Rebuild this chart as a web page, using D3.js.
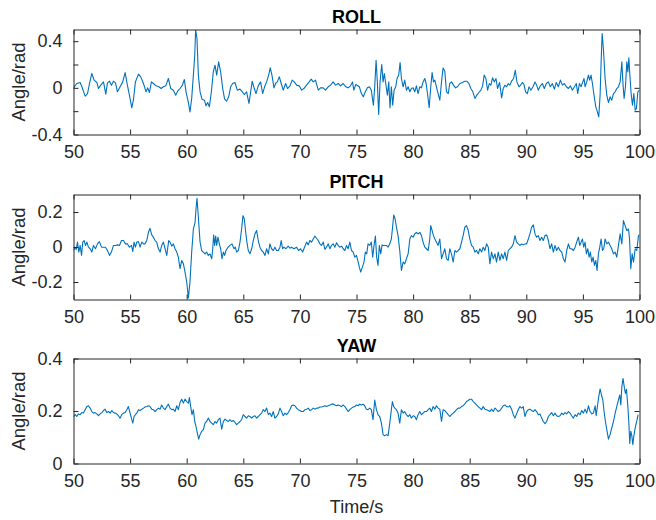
<!DOCTYPE html>
<html>
<head>
<meta charset="utf-8">
<script src="https://cdn.jsdelivr.net/npm/d3@7"></script>
<style>
  body { margin: 0; background: #fff; }
  text { font-family: Arial, "Liberation Sans", Helvetica, sans-serif; }
</style>
</head>
<body>
<div id="chart"></div>
<script>
// Time axis ticks (s)
const timeTicks = [50, 55, 60, 65, 70, 75, 80, 85, 90, 95, 100];

// ROLL angle (rad) as [time, value]
const rollData = [
  [50.00,0.000],[50.29,0.037],[50.59,0.046],[50.74,0.009],[51.03,-0.071],[51.24,-0.049],[51.41,0.037],[51.62,0.123],
  [51.82,0.066],[52.06,0.046],[52.21,-0.006],[52.41,0.023],[52.65,0.051],[52.85,-0.054],[53.00,0.043],[53.18,0.057],
  [53.35,0.023],[53.53,0.057],[53.71,0.043],[53.88,-0.034],[54.12,0.009],[54.35,0.051],[54.56,0.131],[54.76,0.023],
  [54.94,-0.063],[55.15,-0.171],[55.29,-0.106],[55.47,0.051],[55.74,0.117],[55.94,0.094],[56.18,0.037],[56.41,-0.034],
  [56.56,0.000],[56.71,-0.040],[56.88,0.051],[57.06,0.037],[57.29,0.017],[57.53,0.009],[57.74,-0.006],[57.94,0.009],
  [58.15,0.017],[58.38,0.080],[58.59,-0.006],[58.82,-0.020],[59.03,-0.063],[59.21,-0.026],[59.41,-0.006],[59.62,0.023],
  [59.79,0.071],[59.94,-0.034],[60.15,-0.126],[60.29,-0.206],[60.44,-0.091],[60.59,0.109],[60.71,0.280],[60.79,0.494],
  [60.91,0.423],[61.03,0.109],[61.18,-0.034],[61.35,-0.097],[61.56,-0.106],[61.71,-0.154],[61.85,-0.126],[62.00,-0.163],
  [62.18,-0.034],[62.35,0.137],[62.50,0.194],[62.65,0.109],[62.82,0.223],[63.00,0.137],[63.18,-0.006],[63.35,-0.097],
  [63.53,-0.114],[63.71,-0.077],[63.88,0.009],[64.06,0.037],[64.26,0.046],[64.47,-0.020],[64.71,-0.011],[64.91,-0.034],
  [65.09,-0.057],[65.29,-0.034],[65.50,-0.134],[65.65,-0.034],[65.79,0.057],[65.97,-0.006],[66.12,-0.049],[66.32,0.017],
  [66.53,0.051],[66.71,-0.049],[66.88,0.009],[67.06,0.051],[67.24,0.109],[67.38,0.171],[67.53,0.109],[67.71,0.000],
  [67.85,0.037],[68.00,0.051],[68.18,0.094],[68.35,0.037],[68.53,-0.020],[68.74,0.037],[68.91,-0.006],[69.12,0.017],
  [69.32,0.066],[69.50,0.051],[69.71,0.023],[69.94,0.017],[70.15,-0.020],[70.35,-0.006],[70.59,0.023],[70.82,0.051],
  [71.00,0.074],[71.18,0.051],[71.38,0.066],[71.62,-0.020],[71.82,0.000],[72.06,0.000],[72.26,-0.020],[72.50,0.009],
  [72.71,0.023],[72.94,0.051],[73.15,0.023],[73.38,0.037],[73.59,0.017],[73.82,0.037],[74.06,0.009],[74.26,0.000],
  [74.47,0.017],[74.65,0.051],[74.76,-0.020],[74.94,0.029],[75.25,0.009],[75.43,-0.049],[75.60,-0.077],[75.78,-0.034],
  [75.96,0.000],[76.14,0.009],[76.31,-0.020],[76.49,-0.149],[76.61,0.009],[76.73,0.237],[76.84,0.051],[76.96,-0.229],
  [77.08,0.051],[77.23,0.200],[77.35,0.051],[77.46,0.123],[77.58,0.037],[77.73,-0.063],[77.85,0.051],[77.96,-0.171],
  [78.08,0.009],[78.20,-0.149],[78.32,-0.020],[78.47,0.009],[78.58,0.080],[78.73,0.109],[78.85,0.217],[78.97,0.080],
  [79.12,0.009],[79.26,0.066],[79.41,-0.020],[79.56,0.009],[79.71,-0.034],[79.85,-0.006],[80.00,0.000],[80.15,-0.034],
  [80.29,0.017],[80.44,-0.049],[80.59,0.009],[80.74,0.000],[80.88,0.051],[81.03,0.080],[81.15,0.037],[81.27,-0.049],
  [81.42,-0.171],[81.56,0.009],[81.68,0.131],[81.80,0.051],[81.92,0.066],[82.06,0.009],[82.21,-0.049],[82.36,-0.106],
  [82.51,0.051],[82.65,0.171],[82.80,0.143],[82.95,-0.034],[83.10,-0.049],[83.24,0.037],[83.39,0.051],[83.57,0.023],
  [83.75,0.000],[83.92,0.009],[84.13,0.037],[84.34,0.046],[84.57,0.057],[84.75,0.057],[84.93,0.037],[85.10,-0.006],
  [85.28,-0.034],[85.46,-0.091],[85.63,-0.063],[85.81,-0.040],[85.99,-0.020],[86.14,0.017],[86.28,0.109],[86.43,0.080],
  [86.58,-0.020],[86.73,0.037],[86.87,0.023],[87.02,0.086],[87.17,0.051],[87.32,0.080],[87.46,-0.006],[87.64,0.046],
  [87.82,-0.086],[87.96,-0.006],[88.11,0.023],[88.26,0.009],[88.41,0.037],[88.55,0.023],[88.70,0.057],[88.88,0.080],
  [89.03,0.151],[89.17,0.051],[89.35,0.009],[89.50,0.023],[89.65,0.046],[89.79,0.029],[89.94,-0.034],[90.09,-0.049],
  [90.24,0.009],[90.41,-0.020],[90.59,0.009],[90.77,0.051],[90.91,0.023],[91.06,-0.020],[91.24,0.017],[91.42,0.037],
  [91.59,-0.006],[91.77,0.037],[91.95,0.051],[92.12,0.009],[92.30,0.037],[92.48,-0.011],[92.65,0.046],[92.83,0.009],
  [93.01,0.066],[93.19,0.023],[93.36,0.037],[93.54,0.009],[93.72,-0.006],[93.89,0.017],[94.07,-0.020],[94.25,0.009],
  [94.42,0.037],[94.54,-0.049],[94.69,0.037],[94.84,0.009],[94.99,0.051],[95.10,0.080],[95.19,0.009],[95.34,0.051],
  [95.49,0.109],[95.60,0.066],[95.72,0.109],[95.84,0.037],[95.96,-0.049],[96.14,-0.163],[96.28,-0.206],[96.40,-0.249],
  [96.52,-0.063],[96.61,0.223],[96.70,0.466],[96.81,0.337],[96.96,0.080],[97.11,-0.063],[97.26,-0.126],[97.40,-0.077],
  [97.55,-0.106],[97.70,-0.049],[97.85,-0.034],[97.99,-0.006],[98.14,0.009],[98.29,0.051],[98.44,0.223],[98.55,0.023],
  [98.64,-0.091],[98.76,0.009],[98.88,0.223],[98.97,0.137],[99.06,0.257],[99.14,0.123],[99.26,-0.049],[99.38,-0.149],
  [99.50,-0.049],[99.62,-0.191],[99.73,-0.177],[99.85,-0.034],[100.00,-0.020]
];

// PITCH angle (rad)
const pitchData = [
  [50.00,-0.020],[50.12,-0.001],[50.24,-0.014],[50.35,0.028],[50.47,-0.029],[50.59,0.009],[50.71,-0.048],[50.82,0.028],
  [50.94,0.037],[51.06,0.009],[51.18,0.028],[51.32,-0.001],[51.47,-0.010],[51.62,-0.029],[51.76,0.009],[51.94,-0.010],
  [52.12,0.018],[52.29,0.031],[52.47,-0.001],[52.65,-0.001],[52.82,-0.001],[53.00,-0.020],[53.18,-0.048],[53.35,-0.029],
  [53.53,0.009],[53.71,0.009],[53.88,0.012],[54.06,0.009],[54.24,0.037],[54.41,0.037],[54.59,0.018],[54.76,0.018],
  [54.94,-0.001],[55.12,0.009],[55.24,-0.026],[55.35,0.028],[55.47,-0.001],[55.59,0.028],[55.74,0.031],[55.88,-0.001],
  [56.03,0.028],[56.18,0.018],[56.32,0.018],[56.47,0.037],[56.62,0.084],[56.76,0.107],[56.91,0.069],[57.06,0.056],
  [57.21,0.037],[57.35,0.028],[57.50,-0.010],[57.65,-0.029],[57.79,0.009],[57.94,0.028],[58.09,-0.010],[58.24,-0.048],
  [58.41,0.037],[58.53,0.028],[58.68,0.005],[58.82,0.018],[58.97,-0.010],[59.12,-0.029],[59.26,-0.058],[59.41,-0.124],
  [59.56,-0.077],[59.71,-0.096],[59.85,-0.143],[60.00,-0.200],[60.15,-0.291],[60.29,-0.200],[60.44,-0.029],[60.59,0.103],
  [60.74,0.141],[60.82,0.217],[60.91,0.278],[61.03,0.170],[61.18,0.028],[61.32,-0.020],[61.47,-0.029],[61.62,-0.039],
  [61.76,-0.029],[61.91,-0.048],[62.06,-0.039],[62.21,-0.067],[62.29,-0.020],[62.38,0.069],[62.47,0.009],[62.56,0.062],
  [62.65,0.009],[62.76,0.056],[62.88,0.018],[63.00,-0.010],[63.12,-0.067],[63.24,-0.029],[63.35,-0.048],[63.47,-0.020],
  [63.65,-0.001],[63.82,0.009],[64.00,0.018],[64.18,-0.010],[64.29,-0.001],[64.41,-0.029],[64.56,-0.020],[64.71,0.028],
  [64.85,0.103],[64.97,0.179],[65.09,0.160],[65.21,0.084],[65.32,0.028],[65.44,-0.020],[65.59,-0.039],[65.74,-0.010],
  [65.88,0.037],[66.03,0.075],[66.18,0.094],[66.32,0.037],[66.47,-0.001],[66.62,-0.020],[66.76,-0.029],[66.91,-0.048],
  [67.06,-0.010],[67.21,-0.039],[67.35,0.018],[67.50,-0.010],[67.65,-0.020],[67.79,-0.001],[67.94,-0.020],[68.09,-0.020],
  [68.24,-0.001],[68.35,0.037],[68.47,-0.010],[68.59,-0.001],[68.76,-0.010],[68.97,0.005],[69.12,-0.007],[69.26,-0.001],
  [69.47,-0.010],[69.71,-0.001],[69.88,-0.020],[70.06,-0.010],[70.24,-0.029],[70.41,-0.001],[70.59,0.028],[70.74,0.012],
  [70.88,0.037],[71.03,0.028],[71.18,0.046],[71.32,0.062],[71.47,0.050],[71.62,0.037],[71.76,0.018],[71.91,0.009],
  [72.06,0.028],[72.21,-0.014],[72.35,-0.001],[72.50,0.018],[72.65,-0.010],[72.79,0.009],[72.94,0.018],[73.09,-0.001],
  [73.24,0.024],[73.38,0.009],[73.53,-0.001],[73.68,0.005],[73.82,-0.010],[73.97,-0.020],[74.12,0.009],[74.26,-0.010],
  [74.41,0.028],[74.56,-0.020],[74.71,-0.029],[74.85,-0.058],[75.00,-0.048],[75.15,-0.086],[75.25,-0.115],[75.37,-0.143],
  [75.52,-0.115],[75.66,-0.086],[75.78,-0.029],[75.90,-0.039],[76.02,0.018],[76.17,0.009],[76.31,0.028],[76.43,-0.058],
  [76.55,0.009],[76.67,0.062],[76.78,-0.058],[76.90,-0.105],[77.02,0.009],[77.14,-0.039],[77.26,0.012],[77.37,0.009],
  [77.49,0.009],[77.64,0.009],[77.79,-0.001],[77.94,0.018],[78.08,0.046],[78.20,0.122],[78.29,0.183],[78.41,0.160],
  [78.53,0.113],[78.67,0.065],[78.82,-0.020],[78.97,-0.134],[79.12,-0.086],[79.26,-0.096],[79.41,-0.067],[79.56,-0.039],
  [79.71,0.046],[79.85,0.065],[80.00,0.056],[80.15,0.075],[80.29,0.084],[80.44,0.075],[80.59,0.084],[80.74,0.065],
  [80.88,0.028],[81.03,-0.001],[81.18,-0.010],[81.33,-0.020],[81.47,0.046],[81.56,0.122],[81.68,0.094],[81.80,0.065],
  [81.92,0.046],[82.06,0.028],[82.21,0.009],[82.36,0.046],[82.51,-0.067],[82.65,-0.039],[82.80,-0.010],[82.95,-0.067],
  [83.10,-0.077],[83.24,-0.010],[83.39,-0.039],[83.54,-0.086],[83.69,-0.020],[83.83,-0.029],[83.98,-0.020],[84.13,-0.010],
  [84.28,0.028],[84.42,0.065],[84.57,0.113],[84.72,0.122],[84.87,0.094],[85.01,0.046],[85.16,0.009],[85.31,-0.001],
  [85.46,-0.029],[85.60,-0.020],[85.75,-0.039],[85.90,-0.010],[86.05,-0.029],[86.19,-0.001],[86.34,-0.020],[86.49,0.018],
  [86.64,-0.001],[86.78,-0.096],[86.93,-0.029],[87.08,-0.067],[87.23,-0.039],[87.37,-0.086],[87.52,-0.029],[87.67,-0.077],
  [87.82,-0.039],[87.96,-0.067],[88.11,-0.029],[88.26,-0.077],[88.41,-0.020],[88.55,-0.010],[88.70,-0.001],[88.85,0.018],
  [89.00,0.065],[89.14,0.028],[89.29,0.018],[89.44,0.009],[89.59,0.018],[89.73,0.012],[89.88,0.018],[90.03,0.018],
  [90.18,0.046],[90.32,0.075],[90.47,0.113],[90.62,0.126],[90.77,0.075],[90.91,0.056],[91.06,0.065],[91.21,0.037],
  [91.36,0.056],[91.50,0.037],[91.65,0.065],[91.80,0.069],[91.95,0.037],[92.09,-0.010],[92.24,0.018],[92.39,-0.029],
  [92.54,0.009],[92.68,-0.020],[92.83,-0.001],[92.98,-0.020],[93.13,-0.029],[93.27,-0.067],[93.42,-0.086],[93.57,-0.020],
  [93.72,0.018],[93.86,-0.010],[94.01,-0.010],[94.16,-0.020],[94.31,-0.001],[94.45,0.028],[94.60,0.056],[94.72,0.009],
  [94.84,0.028],[94.96,0.046],[95.07,-0.001],[95.19,0.028],[95.31,-0.039],[95.43,-0.010],[95.55,-0.058],[95.66,-0.029],
  [95.78,-0.086],[95.90,-0.058],[96.02,-0.105],[96.14,-0.077],[96.25,-0.134],[96.37,-0.039],[96.49,-0.001],[96.61,0.046],
  [96.73,-0.020],[96.84,-0.010],[96.96,0.046],[97.11,0.018],[97.26,0.028],[97.40,0.009],[97.55,-0.010],[97.70,-0.039],
  [97.85,-0.029],[97.99,-0.058],[98.14,0.009],[98.29,0.075],[98.44,0.018],[98.58,0.151],[98.73,0.122],[98.88,0.094],
  [99.03,0.103],[99.12,0.046],[99.23,-0.124],[99.35,-0.039],[99.47,-0.086],[99.62,-0.010],[99.76,-0.020],[99.91,0.065],
  [100.00,0.070]
];

// YAW angle (rad)
const yawData = [
  [50.00,0.177],[50.15,0.186],[50.29,0.179],[50.44,0.189],[50.59,0.186],[50.74,0.194],[50.88,0.192],[51.03,0.205],
  [51.18,0.217],[51.32,0.220],[51.47,0.211],[51.62,0.198],[51.76,0.192],[51.91,0.194],[52.06,0.189],[52.21,0.182],
  [52.35,0.189],[52.50,0.194],[52.65,0.202],[52.79,0.207],[52.94,0.194],[53.09,0.198],[53.24,0.192],[53.38,0.202],
  [53.53,0.194],[53.68,0.192],[53.82,0.189],[53.97,0.182],[54.12,0.173],[54.26,0.186],[54.41,0.192],[54.56,0.194],
  [54.71,0.205],[54.85,0.217],[55.00,0.192],[55.15,0.167],[55.24,0.154],[55.35,0.179],[55.47,0.186],[55.59,0.192],
  [55.74,0.205],[55.88,0.202],[56.03,0.207],[56.18,0.211],[56.32,0.215],[56.47,0.217],[56.62,0.220],[56.76,0.217],
  [56.91,0.207],[57.06,0.205],[57.21,0.198],[57.35,0.205],[57.50,0.211],[57.65,0.207],[57.79,0.223],[57.94,0.211],
  [58.09,0.205],[58.24,0.217],[58.38,0.226],[58.53,0.211],[58.68,0.205],[58.82,0.207],[58.97,0.198],[59.12,0.220],
  [59.26,0.205],[59.41,0.232],[59.56,0.245],[59.71,0.230],[59.85,0.245],[60.00,0.236],[60.15,0.230],[60.24,0.251],
  [60.35,0.217],[60.47,0.186],[60.59,0.205],[60.71,0.160],[60.82,0.141],[60.94,0.116],[61.06,0.093],[61.18,0.110],
  [61.32,0.122],[61.47,0.129],[61.62,0.154],[61.76,0.160],[61.91,0.173],[62.06,0.160],[62.21,0.154],[62.35,0.148],
  [62.50,0.160],[62.65,0.154],[62.79,0.167],[62.94,0.173],[63.09,0.131],[63.24,0.160],[63.38,0.169],[63.53,0.164],
  [63.68,0.160],[63.82,0.167],[63.97,0.160],[64.12,0.164],[64.26,0.157],[64.41,0.148],[64.56,0.154],[64.71,0.160],
  [64.85,0.167],[65.00,0.186],[65.15,0.179],[65.29,0.173],[65.44,0.182],[65.59,0.179],[65.74,0.173],[65.88,0.179],
  [66.03,0.182],[66.18,0.173],[66.32,0.179],[66.47,0.186],[66.62,0.192],[66.76,0.205],[66.91,0.198],[67.06,0.211],
  [67.21,0.186],[67.35,0.192],[67.50,0.179],[67.65,0.198],[67.79,0.173],[67.94,0.179],[68.09,0.189],[68.24,0.211],
  [68.38,0.198],[68.53,0.182],[68.68,0.192],[68.82,0.186],[68.97,0.194],[69.12,0.205],[69.26,0.220],[69.41,0.223],
  [69.56,0.220],[69.71,0.211],[69.85,0.205],[70.00,0.202],[70.15,0.198],[70.29,0.198],[70.44,0.205],[70.59,0.207],
  [70.74,0.211],[70.88,0.202],[71.03,0.205],[71.18,0.211],[71.32,0.207],[71.47,0.211],[71.62,0.211],[71.76,0.215],
  [71.91,0.215],[72.06,0.217],[72.21,0.220],[72.35,0.217],[72.50,0.220],[72.65,0.223],[72.79,0.226],[72.94,0.227],
  [73.09,0.223],[73.24,0.220],[73.38,0.223],[73.53,0.220],[73.68,0.217],[73.82,0.223],[73.97,0.217],[74.12,0.207],
  [74.26,0.198],[74.41,0.205],[74.56,0.211],[74.71,0.215],[74.85,0.217],[75.00,0.223],[75.15,0.220],[75.28,0.226],
  [75.43,0.223],[75.58,0.226],[75.72,0.220],[75.87,0.207],[76.02,0.205],[76.17,0.211],[76.31,0.205],[76.46,0.167],
  [76.61,0.242],[76.76,0.205],[76.90,0.186],[77.05,0.179],[77.20,0.154],[77.35,0.110],[77.49,0.106],[77.64,0.110],
  [77.79,0.106],[77.94,0.154],[78.08,0.205],[78.17,0.236],[78.29,0.217],[78.38,0.211],[78.53,0.205],[78.67,0.192],
  [78.82,0.154],[78.97,0.205],[79.12,0.192],[79.26,0.198],[79.41,0.186],[79.56,0.179],[79.71,0.186],[79.85,0.173],
  [80.00,0.182],[80.15,0.179],[80.29,0.167],[80.44,0.186],[80.59,0.198],[80.74,0.186],[80.88,0.192],[81.03,0.198],
  [81.18,0.198],[81.33,0.205],[81.47,0.211],[81.62,0.198],[81.77,0.217],[81.92,0.207],[82.06,0.220],[82.21,0.211],
  [82.36,0.207],[82.51,0.160],[82.65,0.205],[82.80,0.202],[82.95,0.194],[83.10,0.186],[83.24,0.179],[83.39,0.186],
  [83.54,0.192],[83.69,0.198],[83.83,0.205],[83.98,0.211],[84.13,0.211],[84.28,0.217],[84.42,0.220],[84.57,0.227],
  [84.72,0.236],[84.87,0.240],[85.01,0.245],[85.16,0.245],[85.31,0.236],[85.46,0.230],[85.60,0.223],[85.75,0.217],
  [85.90,0.211],[86.05,0.205],[86.19,0.217],[86.34,0.207],[86.49,0.205],[86.64,0.202],[86.78,0.198],[86.93,0.207],
  [87.08,0.198],[87.23,0.211],[87.37,0.205],[87.52,0.198],[87.67,0.202],[87.82,0.211],[87.96,0.220],[88.11,0.223],
  [88.26,0.217],[88.41,0.215],[88.55,0.220],[88.70,0.207],[88.85,0.186],[89.00,0.173],[89.14,0.189],[89.29,0.205],
  [89.44,0.217],[89.59,0.211],[89.73,0.217],[89.88,0.179],[90.03,0.198],[90.18,0.205],[90.32,0.207],[90.47,0.202],
  [90.62,0.198],[90.77,0.205],[90.91,0.198],[91.06,0.186],[91.21,0.189],[91.36,0.173],[91.50,0.160],[91.65,0.152],
  [91.80,0.160],[91.95,0.179],[92.09,0.186],[92.24,0.194],[92.39,0.182],[92.54,0.192],[92.68,0.182],[92.83,0.179],
  [92.98,0.182],[93.13,0.192],[93.27,0.186],[93.42,0.194],[93.57,0.189],[93.72,0.198],[93.86,0.192],[94.01,0.182],
  [94.16,0.173],[94.31,0.186],[94.45,0.179],[94.60,0.192],[94.75,0.186],[94.90,0.202],[95.04,0.192],[95.19,0.207],
  [95.34,0.192],[95.49,0.220],[95.63,0.198],[95.78,0.189],[95.93,0.192],[96.08,0.220],[96.17,0.182],[96.28,0.217],
  [96.40,0.255],[96.52,0.284],[96.64,0.261],[96.76,0.242],[96.87,0.198],[96.99,0.160],[97.11,0.129],[97.26,0.093],
  [97.40,0.110],[97.55,0.136],[97.70,0.160],[97.85,0.192],[97.99,0.217],[98.14,0.242],[98.26,0.261],[98.35,0.223],
  [98.44,0.293],[98.55,0.324],[98.67,0.286],[98.76,0.267],[98.85,0.283],[98.97,0.217],[99.06,0.154],[99.14,0.076],
  [99.23,0.123],[99.32,0.106],[99.41,0.072],[99.50,0.104],[99.59,0.129],[99.71,0.154],[99.79,0.167],[99.88,0.186]
];

// y ticks and their labels (MATLAB only labels some of them)
const rollTicks = [-0.4, -0.2, 0, 0.2, 0.4];
const rollLabels = ["-0.4", "", "0", "", "0.4"];
const pitchTicks = [-0.2, 0, 0.2];
const pitchLabels = ["-0.2", "0", "0.2"];
const yawTicks = [0, 0.2, 0.4];
const yawLabels = ["0", "0.2", "0.4"];

const titles = ["ROLL", "PITCH", "YAW"];

//Plot dimensions
var width = 656;
var height = 520;
var plotLeft = 73.5;
var plotRight = 639.5;
var plotHeight = 105;
var axisColor = "#262626";
var lineColor = "#0072BD";

var panels = [
  { title: titles[0], data: rollData, domain: [-0.4, 0.5], ticks: rollTicks, labels: rollLabels, top: 29.5 },
  { title: titles[1], data: pitchData, domain: [-0.3, 0.3], ticks: pitchTicks, labels: pitchLabels, top: 194.5 },
  { title: titles[2], data: yawData, domain: [0, 0.4], ticks: yawTicks, labels: yawLabels, top: 358.5 }
];

var svg = d3.select("#chart")
  .append("svg")
  .attr("width", width)
  .attr("height", height);

var x = d3.scaleLinear().domain([50, 100]).range([0, plotRight - plotLeft]);

panels.forEach(function(p, i) {
  var w = plotRight - plotLeft;
  var y = d3.scaleLinear().domain(p.domain).range([plotHeight, 0]);

  var g = svg.append("g")
    .attr("transform", "translate(" + plotLeft + "," + p.top + ")");

  g.append("clipPath")
    .attr("id", "clip" + i)
    .append("rect")
    .attr("width", w)
    .attr("height", plotHeight);

  var line = d3.line()
    .x(function(d) { return x(d[0]); })
    .y(function(d) { return y(d[1]); });

  g.append("path")
    .datum(p.data)
    .attr("clip-path", "url(#clip" + i + ")")
    .attr("fill", "none")
    .attr("stroke", lineColor)
    .attr("stroke-width", 1.1)
    .attr("stroke-linejoin", "round")
    .attr("d", line);

  // bottom axis with labels, ticks pointing in
  var bottom = g.append("g")
    .attr("transform", "translate(0," + plotHeight + ")")
    .call(d3.axisBottom(x).tickValues(timeTicks).tickFormat(d3.format("d"))
      .tickSizeInner(-5).tickSizeOuter(0).tickPadding(11));

  var top = g.append("g")
    .call(d3.axisTop(x).tickValues(timeTicks).tickFormat("")
      .tickSizeInner(-5).tickSizeOuter(0));

  var left = g.append("g")
    .call(d3.axisLeft(y).tickValues(p.ticks)
      .tickFormat(function(d, k) { return p.labels[k]; })
      .tickSizeInner(-5).tickSizeOuter(0).tickPadding(11));

  var right = g.append("g")
    .attr("transform", "translate(" + w + ",0)")
    .call(d3.axisRight(y).tickValues(p.ticks).tickFormat("")
      .tickSizeInner(-5).tickSizeOuter(0));

  [bottom, top, left, right].forEach(function(a) {
    a.select(".domain").attr("stroke", axisColor).attr("stroke-width", 1);
    a.selectAll(".tick line").attr("stroke", axisColor).attr("stroke-width", 1);
    a.selectAll(".tick text")
      .attr("fill", axisColor)
      .style("font-size", "18px")
      .style("font-family", "Arial, 'Liberation Sans', sans-serif");
  });

  // panel title
  svg.append("text")
    .attr("x", (plotLeft + plotRight) / 2)
    .attr("y", p.top - 6.5)
    .attr("text-anchor", "middle")
    .style("font-size", "18px")
    .style("font-weight", "bold")
    .attr("fill", "#000")
    .text(p.title);

  // y axis label
  svg.append("text")
    .attr("transform", "translate(25," + (p.top + plotHeight / 2) + ") rotate(-90)")
    .attr("text-anchor", "middle")
    .style("font-size", "18.5px")
    .attr("fill", axisColor)
    .text("Angle/rad");
});

svg.append("text")
  .attr("x", (plotLeft + plotRight) / 2)
  .attr("y", 513)
  .attr("text-anchor", "middle")
  .style("font-size", "18px")
  .attr("fill", axisColor)
  .text("Time/s");
</script>
</body>
</html>
